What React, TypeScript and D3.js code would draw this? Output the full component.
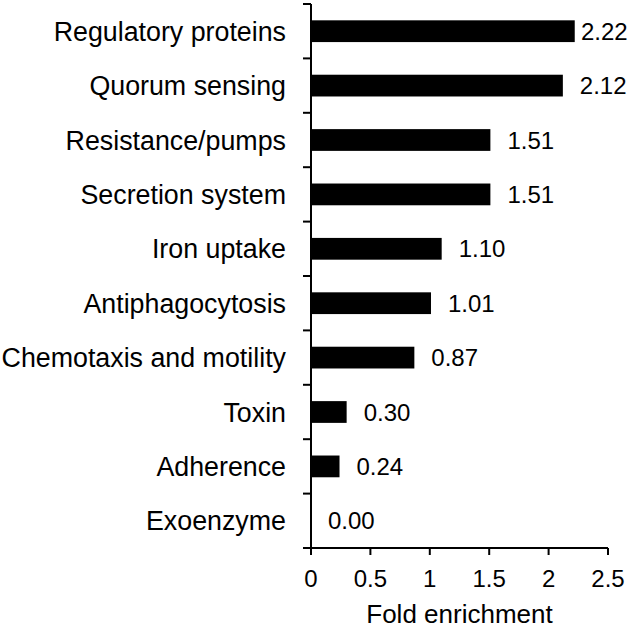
import React from "react";
import * as d3 from "d3";

const categories = [
  "Regulatory proteins",
  "Quorum sensing",
  "Resistance/pumps",
  "Secretion system",
  "Iron uptake",
  "Antiphagocytosis",
  "Chemotaxis and motility",
  "Toxin",
  "Adherence",
  "Exoenzyme",
];
const values = [2.22, 2.12, 1.51, 1.51, 1.1, 1.01, 0.87, 0.3, 0.24, 0.0];
const xTicks = [0, 0.5, 1, 1.5, 2, 2.5];
const xTitle = "Fold enrichment";

export default function App() {
  const W = 630;
  const H = 630;
  const x = d3.scaleLinear().domain([0, 2.5]).range([311, 608]);
  const y = d3
    .scaleBand<string>()
    .domain(categories)
    .range([4, 548])
    .paddingInner(0.6)
    .paddingOuter(0.3);
  const step = y.step();
  const font = "'Liberation Sans', Arial, Helvetica, sans-serif";
  const boundaries = d3.range(categories.length + 1).map((i) => 4 + i * step);
  const x0 = x(0);
  const yBase = 548;

  return (
    <svg
      width={W}
      height={H}
      style={{ position: "absolute", left: 0, top: 0, background: "#fff" }}
      fontFamily={font}
    >
      <rect x={0} y={0} width={W} height={H} fill="#fff" />
      {categories.map((c, i) => {
        const yy = y(c)!;
        const v = values[i];
        const bx = x(v);
        const lx = Math.min(bx + 17, 581);
        return (
          <g key={c}>
            <rect x={x0} y={yy} width={bx - x0} height={y.bandwidth()} fill="#000" />
            <text
              x={286}
              y={yy + y.bandwidth() / 2}
              dy="0.36em"
              textAnchor="end"
              fontSize={26.8}
              fill="#000"
            >
              {c}
            </text>
            <text
              x={lx}
              y={yy + y.bandwidth() / 2}
              dy="0.36em"
              textAnchor="start"
              fontSize={24}
              fill="#000"
            >
              {d3.format(".2f")(v)}
            </text>
          </g>
        );
      })}
      <line x1={x0} x2={x0} y1={4} y2={yBase} stroke="#000" strokeWidth={2} />
      {boundaries.map((b, i) => (
        <line key={i} x1={x0 - 8} x2={x0} y1={b} y2={b} stroke="#000" strokeWidth={2} />
      ))}
      <line x1={x0} x2={x(2.5)} y1={yBase} y2={yBase} stroke="#000" strokeWidth={2} />
      {xTicks.map((t) => (
        <g key={t}>
          <line x1={x(t)} x2={x(t)} y1={yBase} y2={yBase + 7} stroke="#000" strokeWidth={2} />
          <text x={x(t)} y={587} textAnchor="middle" fontSize={24} fill="#000">
            {String(t)}
          </text>
        </g>
      ))}
      <text x={(x(0) + x(2.5)) / 2} y={623} textAnchor="middle" fontSize={26} fill="#000">
        {xTitle}
      </text>
    </svg>
  );
}
